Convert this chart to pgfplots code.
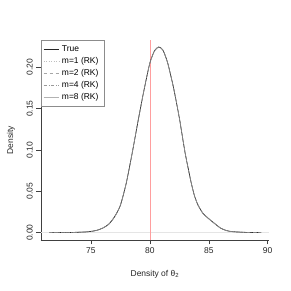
\documentclass[border=0pt]{standalone}
\usepackage{fontspec}
\setmainfont{Liberation Sans}
\usepackage{pgfplots}
\pgfplotsset{compat=1.18}
\usepackage{pgfplotstable}
\definecolor{redline}{rgb}{1,0.62,0.62}
\pgfplotstableread{
x y
71.45 0.0000
72.50 0.0001
73.50 0.0003
74.50 0.0008
75.00 0.0015
75.50 0.0028
76.00 0.0055
76.50 0.0100
77.00 0.0190
77.50 0.0330
78.00 0.0600
78.50 0.0960
79.00 0.1350
79.50 0.1720
80.00 0.2050
80.40 0.2200
80.75 0.2245
81.10 0.2210
81.50 0.2060
82.00 0.1760
82.50 0.1390
83.00 0.0960
83.50 0.0610
83.80 0.0440
84.10 0.0330
84.50 0.0235
85.00 0.0168
85.50 0.0110
86.00 0.0055
86.50 0.0025
87.00 0.0012
88.00 0.0004
89.00 0.0001
89.45 0.0000
}\dens
\begin{document}
\begin{tikzpicture}
\path[use as bounding box] (0,0) rectangle (291bp,291bp);
\begin{axis}[
  at={(40.7bp,51bp)}, anchor=south west,
  scale only axis, width=228.4bp, height=199.5bp,
  xmin=70.74, xmax=90.12, ymin=-0.0089, ymax=0.2324,
  axis x line*=bottom, axis y line*=left,
  x axis line style={-}, y axis line style={-},
  axis line style={black!75, line width=0.4pt},
  tick style={black!75, line width=0.4pt},
  tick align=outside, major tick length=4.5bp,
  xtick={75,80,85,90},
  ytick={0,0.05,0.10,0.15,0.20},
  scaled y ticks=false,
  /pgf/number format/assume math mode=true,
  yticklabel style={rotate=90, anchor=south, /pgf/number format/.cd, fixed, fixed zerofill, precision=2},
  tick label style={font=\fontsize{8.5}{10}\selectfont, text=black!85},
  xlabel={Density of θ\textsubscript{2}},
  ylabel={Density},
  label style={font=\fontsize{8.5}{10}\selectfont, text=black!85},
  xlabel style={at={(axis description cs:0.5,-0.17)}, anchor=center},
  ylabel style={at={(axis description cs:-0.13,0.5)}, anchor=center},
  legend style={at={(0,1)}, anchor=north west, draw=black!45, line width=0.4pt,
    font=\fontsize{8.5}{10}\selectfont, row sep=0.4bp, inner xsep=2.5bp, inner ysep=3bp,
    cells={anchor=west}, nodes={inner xsep=3bp}},
  legend image code/.code={\draw[#1] (0bp,0bp) -- (15bp,0bp);},
]
\addlegendimage{black!85, line width=0.6pt}
\addlegendimage{black!25, dotted, line width=0.5pt}
\addlegendimage{black!35, dashed, line width=0.5pt}
\addlegendimage{black!40, dash dot, line width=0.5pt}
\addlegendimage{black!30, line width=0.5pt}
\addplot[black!10, line width=0.3pt, forget plot] coordinates {(70.74,0) (90.12,0)};
\addplot[redline, line width=0.5pt, forget plot] coordinates {(80,-0.0089) (80,0.2324)};
\addplot[black!35, line width=0.5pt, smooth, tension=0.4, forget plot] table {\dens};
\addplot[black!85, line width=0.7pt, smooth, tension=0.4, forget plot] table {\dens};
\addplot[black!30, dotted, line width=0.5pt, smooth, tension=0.4, forget plot] table {\dens};
\addplot[black!40, dashed, line width=0.5pt, smooth, tension=0.4, forget plot] table {\dens};
\addplot[black!45, dash dot, line width=0.5pt, smooth, tension=0.4, forget plot] table {\dens};
\legend{True, m=1 (RK), m=2 (RK), m=4 (RK), m=8 (RK)}
\end{axis}
\end{tikzpicture}
\end{document}
